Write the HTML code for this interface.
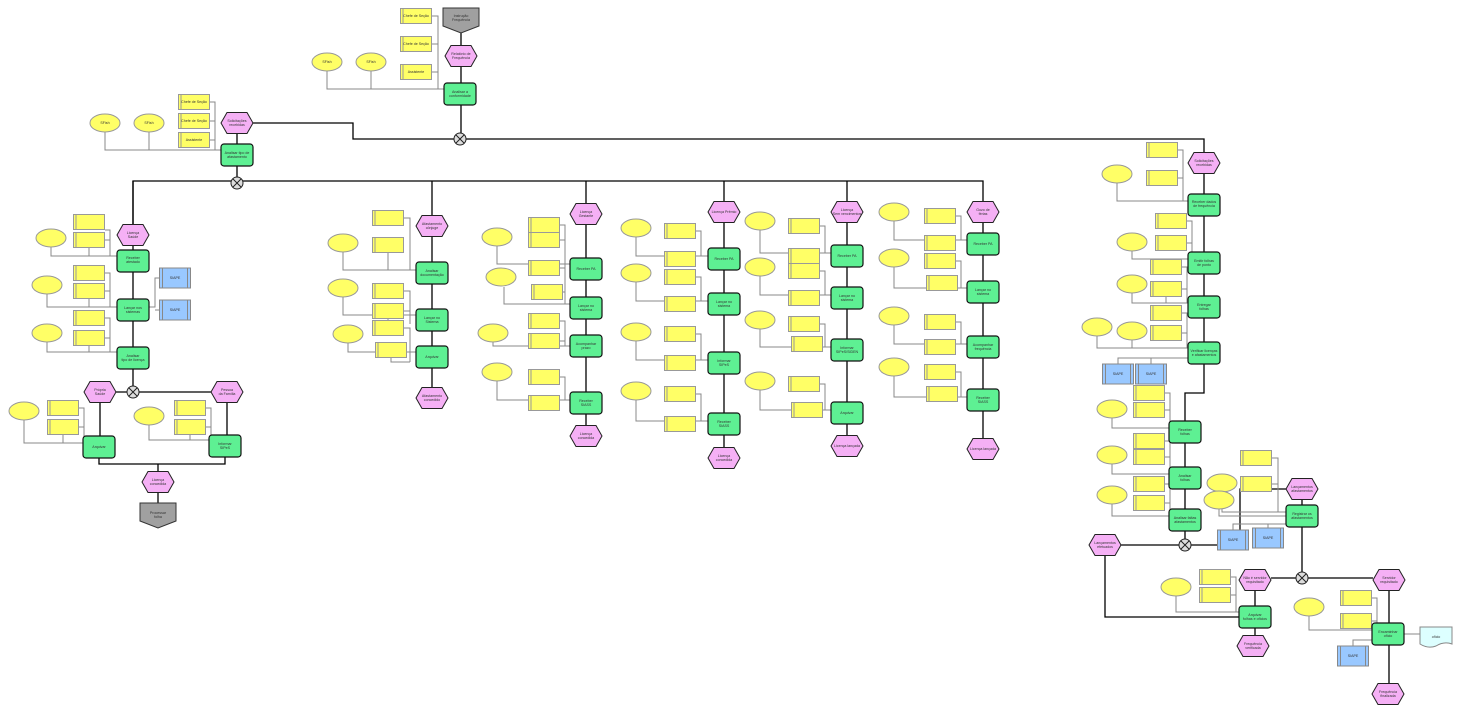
<!DOCTYPE html>
<html><head><meta charset="utf-8"><style>
html,body{margin:0;padding:0;background:#fff;width:1460px;height:712px;overflow:hidden}
svg{display:block}
text{font-family:"Liberation Sans",sans-serif;font-size:3.6px;fill:#333;text-anchor:middle}
.f{fill:none;stroke:#000;stroke-width:1.3}
.g{fill:none;stroke:#888;stroke-width:1}
</style></head><body>
<svg width="1460" height="712" viewBox="0 0 1460 712" xmlns="http://www.w3.org/2000/svg">
<defs>
<g id="ev"><polygon points="-16,0 -10,-10.5 10,-10.5 16,0 10,10.5 -10,10.5" fill="#f5b0f5" stroke="#222" stroke-width="1"/></g>
<g id="fn"><rect x="-16" y="-11" width="32" height="22" rx="3" fill="#5ef093" stroke="#111" stroke-width="1.2"/></g>
<g id="ro"><rect x="-15.5" y="-7.5" width="31" height="15" fill="#ffff66" stroke="#999" stroke-width="1"/><line x1="-13" y1="-7.5" x2="-13" y2="7.5" stroke="#999"/></g>
<g id="el"><ellipse rx="15" ry="9" fill="#ffff66" stroke="#999" stroke-width="1"/></g>
<g id="sy"><rect x="-15.5" y="-10" width="31" height="20" fill="#99c8ff" stroke="#888" stroke-width="1"/><line x1="-12.5" y1="-10" x2="-12.5" y2="10" stroke="#888"/><line x1="12.5" y1="-10" x2="12.5" y2="10" stroke="#888"/></g>
<g id="xo"><circle r="6" fill="#ddd" stroke="#222" stroke-width="1"/><path d="M-4,-4 L4,4 M4,-4 L-4,4" stroke="#222" stroke-width="1"/></g>
<g id="pi"><polygon points="-18,-12 18,-12 18,6 0,13 -18,6" fill="#a0a0a0" stroke="#333" stroke-width="1"/></g>
</defs>

<!-- control flow -->
<path class="f" d="M461 18 V139 M454 139 H353 V123 H253 M466 139 H1204 V163"/>
<path class="f" d="M237 123 V183 M133 235 V181 H983 V212"/>
<path class="f" d="M133 181 V392 M100 392 H227 M100 392 V447 M227 392 V446 M99 457 V464 H225 V457 M158 464 V515"/>
<path class="f" d="M432 181 V398 M586 181 V436 M724 181 V458 M847 181 V446 M983 212 V449"/>
<path class="f" d="M1204 163 V353 M1204 363 V393 H1185 V545 M1179 545 H1121 M1191 545 H1240 V489 H1286 M1302 489 V578 M1296 578 H1271 M1308 578 H1373 M1255 580 V646 M1389 580 V694 M1105 555 V617 H1239"/>
<path class="g" d="M1404 634 H1420"/>

<!-- organisational links -->
<path class="g" d="M432 16 H438 V89 M432 44 H438 M432 72 H438 M327 71 V89 H444 M371 71 V89"/>
<path class="g" d="M210 102 H215 V150 M210 121 H215 M210 140 H215 M105 132 V150 H221 M149 132 V150"/>
<path class="g" d="M105 230 H110 V256 M105 240 H110 M51 247 V256 H117 M89 248 V256"/>
<path class="g" d="M105 273 H110 V307 M105 291 H110 M47 294 V307 H117 M89 299 V307 M149 307 H155 V278 H160 M155 310 H160"/>
<path class="g" d="M105 318 H110 V352 M105 338 H110 M47 342 V352 H117 M89 346 V352"/>
<path class="g" d="M79 408 H84 V443 M79 427 H84 M24 420 V443 H83 M63 435 V443"/>
<path class="g" d="M206 408 H211 V440 M206 427 H211 M149 425 V440 H209 M190 435 V440"/>
<path class="g" d="M404 218 H410 V270 M343 252 V270 H416 M388 253 V270"/>
<path class="g" d="M404 291 H410 V324 M404 311 H410 M343 297 V315 H416 M388 319 V324"/>
<path class="g" d="M404 328 H410 V362 M348 343 V352 H416 M391 358 V362 H410"/>
<path class="g" d="M560 225 H565 V304 M560 240 H565 M497 246 V264 H570 M560 268 H565 M504 287 V304 H570 M563 292 H565"/>
<path class="g" d="M560 321 H565 V346 M493 342 V346 H570 M560 341 H565"/>
<path class="g" d="M560 377 H565 V400 M497 381 V400 H570"/>
<path class="g" d="M696 231 H701 V256 M636 237 V256 H708 M696 277 H701 V301 M636 282 V301 H708 M696 334 H701 V360 M636 341 V360 H708 M696 394 H701 V421 M636 400 V421 H708"/>
<path class="g" d="M820 226 H825 V253 M760 230 V253 H831 M820 271 H825 V295 M760 276 V295 H831 M820 324 H825 V347 M760 329 V347 H831 M820 384 H825 V410 M760 390 V410 H831"/>
<path class="g" d="M956 216 H961 V240 M894 221 V240 H967 M956 261 H961 V288 M894 267 V288 H967 M956 322 H961 V344 M894 325 V344 H967 M956 372 H961 V397 M894 376 V397 H967"/>
<path class="g" d="M1178 150 H1183 V201 M1178 178 H1183 M1117 183 V201 H1188"/>
<path class="g" d="M1187 221 H1192 V259 M1187 243 H1192 M1132 251 V259 H1188"/>
<path class="g" d="M1182 267 H1187 V303 M1182 289 H1187 M1132 293 V303 H1188 M1166 297 V303"/>
<path class="g" d="M1182 313 H1187 V348 M1182 333 H1187 M1097 336 V348 H1188 M1132 340 V348 M1188 358 H1118 V364 M1151 358 V364"/>
<path class="g" d="M1165 393 H1170 V428 M1165 410 H1170 M1112 418 V428 H1169"/>
<path class="g" d="M1165 441 H1170 V474 M1165 457 H1170 M1112 464 V474 H1169"/>
<path class="g" d="M1165 484 H1170 V516 M1165 503 H1170 M1112 504 V516 H1169"/>
<path class="g" d="M1272 458 H1278 V512 M1272 484 H1278 M1222 492 V512 H1286 M1219 509 V516 H1286 M1233 530 V524 H1286 M1268 528 V524"/>
<path class="g" d="M1231 577 H1236 V612 M1231 595 H1236 M1176 596 V612 H1239"/>
<path class="g" d="M1372 598 H1377 V630 M1372 621 H1377 M1309 616 V630 H1372 M1353 646 V640 H1372"/>

<!-- shapes -->
<use href="#pi" x="461" y="20"/>
<use href="#ro" x="416" y="16"/><use href="#ro" x="416" y="44"/><use href="#ro" x="416" y="72"/>
<use href="#el" x="327" y="62"/><use href="#el" x="371" y="62"/>
<use href="#ev" x="461" y="56"/><use href="#fn" x="460" y="94"/><use href="#xo" x="460" y="139"/>

<use href="#ro" x="194" y="102"/><use href="#ro" x="194" y="121"/><use href="#ro" x="194" y="140"/>
<use href="#el" x="105" y="123"/><use href="#el" x="149" y="123"/>
<use href="#ev" x="237" y="123"/><use href="#fn" x="237" y="155"/><use href="#xo" x="237" y="183"/>

<use href="#ev" x="133" y="235"/>
<use href="#ro" x="89" y="222"/><use href="#ro" x="89" y="240"/><use href="#el" x="51" y="238"/><use href="#fn" x="133" y="261"/>
<use href="#ro" x="89" y="273"/><use href="#ro" x="89" y="291"/><use href="#el" x="47" y="285"/><use href="#fn" x="133" y="310"/>
<use href="#sy" x="175" y="278"/><use href="#sy" x="175" y="310"/>
<use href="#ro" x="89" y="318"/><use href="#ro" x="89" y="338"/><use href="#el" x="47" y="333"/><use href="#fn" x="133" y="358"/>
<use href="#xo" x="133" y="392"/><use href="#ev" x="100" y="392"/><use href="#ev" x="227" y="392"/>
<use href="#el" x="24" y="411"/><use href="#ro" x="63" y="408"/><use href="#ro" x="63" y="427"/><use href="#fn" x="99" y="447"/>
<use href="#el" x="149" y="416"/><use href="#ro" x="190" y="408"/><use href="#ro" x="190" y="427"/><use href="#fn" x="225" y="446"/>
<use href="#ev" x="158" y="482"/><use href="#pi" x="158" y="515"/>

<use href="#ev" x="432" y="226"/>
<use href="#ro" x="388" y="218"/><use href="#ro" x="388" y="245"/><use href="#el" x="343" y="243"/><use href="#fn" x="432" y="273"/>
<use href="#el" x="343" y="288"/><use href="#ro" x="388" y="291"/><use href="#ro" x="388" y="311"/><use href="#fn" x="432" y="320"/>
<use href="#el" x="348" y="334"/><use href="#ro" x="388" y="328"/><use href="#ro" x="391" y="350"/><use href="#fn" x="432" y="357"/>
<use href="#ev" x="432" y="398"/>

<use href="#ev" x="586" y="214"/>
<use href="#ro" x="544" y="225"/><use href="#ro" x="544" y="240"/><use href="#ro" x="544" y="268"/><use href="#ro" x="547" y="292"/>
<use href="#el" x="497" y="237"/><use href="#el" x="501" y="277"/>
<use href="#fn" x="586" y="269"/><use href="#fn" x="586" y="308"/><use href="#fn" x="586" y="346"/><use href="#fn" x="586" y="403"/>
<use href="#el" x="493" y="333"/><use href="#ro" x="544" y="321"/><use href="#ro" x="544" y="341"/>
<use href="#el" x="497" y="372"/><use href="#ro" x="544" y="377"/><use href="#ro" x="544" y="403"/>
<use href="#ev" x="586" y="436"/>

<use href="#ev" x="724" y="212"/>
<use href="#fn" x="724" y="259"/><use href="#fn" x="724" y="304"/><use href="#fn" x="724" y="363"/><use href="#fn" x="724" y="424"/>
<use href="#el" x="636" y="228"/><use href="#ro" x="680" y="231"/><use href="#ro" x="680" y="259"/>
<use href="#el" x="636" y="273"/><use href="#ro" x="680" y="277"/><use href="#ro" x="680" y="304"/>
<use href="#el" x="636" y="332"/><use href="#ro" x="680" y="334"/><use href="#ro" x="680" y="363"/>
<use href="#el" x="636" y="391"/><use href="#ro" x="680" y="394"/><use href="#ro" x="680" y="424"/>
<use href="#ev" x="724" y="458"/>

<use href="#ev" x="847" y="212"/>
<use href="#fn" x="847" y="256"/><use href="#fn" x="847" y="298"/><use href="#fn" x="847" y="350"/><use href="#fn" x="847" y="413"/>
<use href="#el" x="760" y="221"/><use href="#ro" x="804" y="226"/><use href="#ro" x="804" y="256"/>
<use href="#el" x="760" y="267"/><use href="#ro" x="804" y="271"/><use href="#ro" x="804" y="298"/>
<use href="#el" x="760" y="320"/><use href="#ro" x="804" y="324"/><use href="#ro" x="807" y="344"/>
<use href="#el" x="760" y="381"/><use href="#ro" x="804" y="384"/><use href="#ro" x="807" y="410"/>
<use href="#ev" x="847" y="446"/>

<use href="#ev" x="983" y="212"/>
<use href="#fn" x="983" y="244"/><use href="#fn" x="983" y="292"/><use href="#fn" x="983" y="347"/><use href="#fn" x="983" y="400"/>
<use href="#el" x="894" y="212"/><use href="#ro" x="940" y="216"/><use href="#ro" x="940" y="243"/>
<use href="#el" x="894" y="258"/><use href="#ro" x="940" y="261"/><use href="#ro" x="942" y="283"/>
<use href="#el" x="894" y="316"/><use href="#ro" x="940" y="322"/><use href="#ro" x="940" y="347"/>
<use href="#el" x="894" y="367"/><use href="#ro" x="940" y="372"/><use href="#ro" x="942" y="394"/>
<use href="#ev" x="983" y="449"/>

<use href="#ev" x="1204" y="163"/>
<use href="#ro" x="1162" y="150"/><use href="#ro" x="1162" y="178"/><use href="#el" x="1117" y="174"/><use href="#fn" x="1204" y="205"/>
<use href="#ro" x="1171" y="221"/><use href="#ro" x="1171" y="243"/><use href="#el" x="1132" y="242"/><use href="#fn" x="1204" y="263"/>
<use href="#ro" x="1166" y="267"/><use href="#ro" x="1166" y="289"/><use href="#el" x="1132" y="284"/><use href="#fn" x="1204" y="307"/>
<use href="#ro" x="1166" y="313"/><use href="#ro" x="1166" y="333"/><use href="#el" x="1097" y="327"/><use href="#el" x="1132" y="331"/><use href="#fn" x="1204" y="353"/>
<use href="#sy" x="1118" y="374"/><use href="#sy" x="1151" y="374"/>
<use href="#ro" x="1149" y="393"/><use href="#ro" x="1149" y="410"/><use href="#el" x="1112" y="409"/><use href="#fn" x="1185" y="432"/>
<use href="#ro" x="1149" y="441"/><use href="#ro" x="1149" y="457"/><use href="#el" x="1112" y="455"/><use href="#fn" x="1185" y="478"/>
<use href="#ro" x="1149" y="484"/><use href="#ro" x="1149" y="503"/><use href="#el" x="1112" y="495"/><use href="#fn" x="1185" y="520"/>
<use href="#xo" x="1185" y="545"/><use href="#ev" x="1105" y="545"/>
<use href="#ro" x="1256" y="458"/><use href="#ro" x="1256" y="484"/><use href="#el" x="1222" y="483"/><use href="#el" x="1219" y="500"/>
<use href="#ev" x="1302" y="489"/><use href="#fn" x="1302" y="516"/>
<use href="#sy" x="1233" y="540"/><use href="#sy" x="1268" y="538"/>
<use href="#xo" x="1302" y="578"/><use href="#ev" x="1255" y="580"/><use href="#ev" x="1389" y="580"/>
<use href="#el" x="1176" y="587"/><use href="#ro" x="1215" y="577"/><use href="#ro" x="1215" y="595"/><use href="#fn" x="1255" y="617"/><use href="#ev" x="1253" y="646"/>
<use href="#el" x="1309" y="607"/><use href="#ro" x="1356" y="598"/><use href="#ro" x="1356" y="621"/><use href="#fn" x="1388" y="634"/>
<path d="M1420 627 H1452 V644 Q1444 641 1436 646 Q1428 649 1420 644 Z" fill="#ddffff" stroke="#888"/>
<use href="#sy" x="1353" y="656"/><use href="#ev" x="1388" y="694"/>

<!-- labels -->
<g>
<text x="461" y="17">Instrução</text><text x="461" y="21">Frequência</text>
<text x="461" y="55">Relatório de</text><text x="461" y="59">Frequência</text>
<text x="460" y="93">Analisar a</text><text x="460" y="97">conformidade</text>
<text x="237" y="122">Solicitações</text><text x="237" y="126">recebidas</text>
<text x="237" y="154">Analisar tipo de</text><text x="237" y="158">afastamento</text>
<text x="133" y="234">Licença</text><text x="133" y="238">Saúde</text>
<text x="133" y="259">Receber</text><text x="133" y="263">atestado</text>
<text x="133" y="309">Lançar nos</text><text x="133" y="313">sistemas</text>
<text x="133" y="357">Analisar</text><text x="133" y="361">tipo de licença</text>
<text x="100" y="391">Própria</text><text x="100" y="395">Saúde</text>
<text x="227" y="391">Pessoa</text><text x="227" y="395">da Família</text>
<text x="99" y="448">Arquivar</text><text x="225" y="445">Informar</text><text x="225" y="449">SIPeS</text>
<text x="158" y="481">Licença</text><text x="158" y="485">concedida</text>
<text x="158" y="514">Processar</text><text x="158" y="518">folha</text>
<text x="432" y="225">Afastamento</text><text x="432" y="229">cônjuge</text>
<text x="432" y="272">Analisar</text><text x="432" y="276">documentação</text>
<text x="432" y="319">Lançar no</text><text x="432" y="323">Sistema</text>
<text x="432" y="358">Arquivar</text>
<text x="432" y="397">Afastamento</text><text x="432" y="401">concedido</text>
<text x="586" y="213">Licença</text><text x="586" y="217">Gestante</text>
<text x="586" y="270">Receber PA</text><text x="586" y="307">Lançar no</text><text x="586" y="311">sistema</text>
<text x="586" y="345">Acompanhar</text><text x="586" y="349">prazo</text>
<text x="586" y="402">Receber</text><text x="586" y="406">SIASS</text>
<text x="586" y="435">Licença</text><text x="586" y="439">concedida</text>
<text x="724" y="213">Licença Prêmio</text>
<text x="724" y="260">Receber PA</text><text x="724" y="303">Lançar no</text><text x="724" y="307">sistema</text>
<text x="724" y="362">Informar</text><text x="724" y="366">SIPeS</text>
<text x="724" y="423">Receber</text><text x="724" y="427">SIASS</text>
<text x="724" y="457">Licença</text><text x="724" y="461">concedida</text>
<text x="847" y="211">Licença</text><text x="847" y="215">Sem vencimentos</text>
<text x="847" y="257">Receber PA</text><text x="847" y="297">Lançar no</text><text x="847" y="301">sistema</text>
<text x="847" y="349">Informar</text><text x="847" y="353">SIPeS/SIDEN</text>
<text x="847" y="414">Arquivar</text><text x="847" y="447">Licença lançada</text>
<text x="983" y="211">Gozo de</text><text x="983" y="215">férias</text>
<text x="983" y="245">Receber PA</text><text x="983" y="291">Lançar no</text><text x="983" y="295">sistema</text>
<text x="983" y="346">Acompanhar</text><text x="983" y="350">frequência</text>
<text x="983" y="399">Receber</text><text x="983" y="403">SIASS</text>
<text x="983" y="450">Licença lançada</text>
<text x="1204" y="162">Solicitações</text><text x="1204" y="166">recebidas</text>
<text x="1204" y="203">Receber dados</text><text x="1204" y="207">de frequência</text>
<text x="1204" y="262">Emitir folhas</text><text x="1204" y="266">de ponto</text>
<text x="1204" y="306">Entregar</text><text x="1204" y="310">folhas</text>
<text x="1204" y="352">Verificar licenças</text><text x="1204" y="356">e afastamentos</text>
<text x="1185" y="431">Receber</text><text x="1185" y="435">folhas</text>
<text x="1185" y="477">Analisar</text><text x="1185" y="481">folhas</text>
<text x="1185" y="519">Analisar faltas</text><text x="1185" y="523">afastamentos</text>
<text x="1105" y="544">Lançamentos</text><text x="1105" y="548">efetuados</text>
<text x="1302" y="488">Lançamentos</text><text x="1302" y="492">afastamentos</text>
<text x="1302" y="515">Registrar os</text><text x="1302" y="519">afastamentos</text>
<text x="1255" y="579">Não é servidor</text><text x="1255" y="583">requisitado</text>
<text x="1389" y="579">Servidor</text><text x="1389" y="583">requisitado</text>
<text x="1255" y="616">Arquivar</text><text x="1255" y="620">folhas e ofícios</text>
<text x="1253" y="645">Frequência</text><text x="1253" y="649">verificada</text>
<text x="1388" y="633">Encaminhar</text><text x="1388" y="637">ofício</text>
<text x="1436" y="638">ofício</text>
<text x="1388" y="693">Frequência</text><text x="1388" y="697">finalizada</text>
</g>
<g fill="#555">
<text x="416" y="17">Chefe de Seção</text><text x="416" y="45">Chefe de Seção</text><text x="416" y="73">Assistente</text>
<text x="327" y="63">SFish</text><text x="371" y="63">SFish</text>
<text x="194" y="103">Chefe de Seção</text><text x="194" y="122">Chefe de Seção</text><text x="194" y="141">Assistente</text>
<text x="105" y="124">SFish</text><text x="149" y="124">SFish</text>
<text x="175" y="279">SIAPE</text><text x="175" y="311">SIAPE</text>
<text x="1118" y="375">SIAPE</text><text x="1151" y="375">SIAPE</text>
<text x="1233" y="541">SIAPE</text><text x="1268" y="539">SIAPE</text><text x="1353" y="657">SIAPE</text>
</g>
</svg>
</body></html>
